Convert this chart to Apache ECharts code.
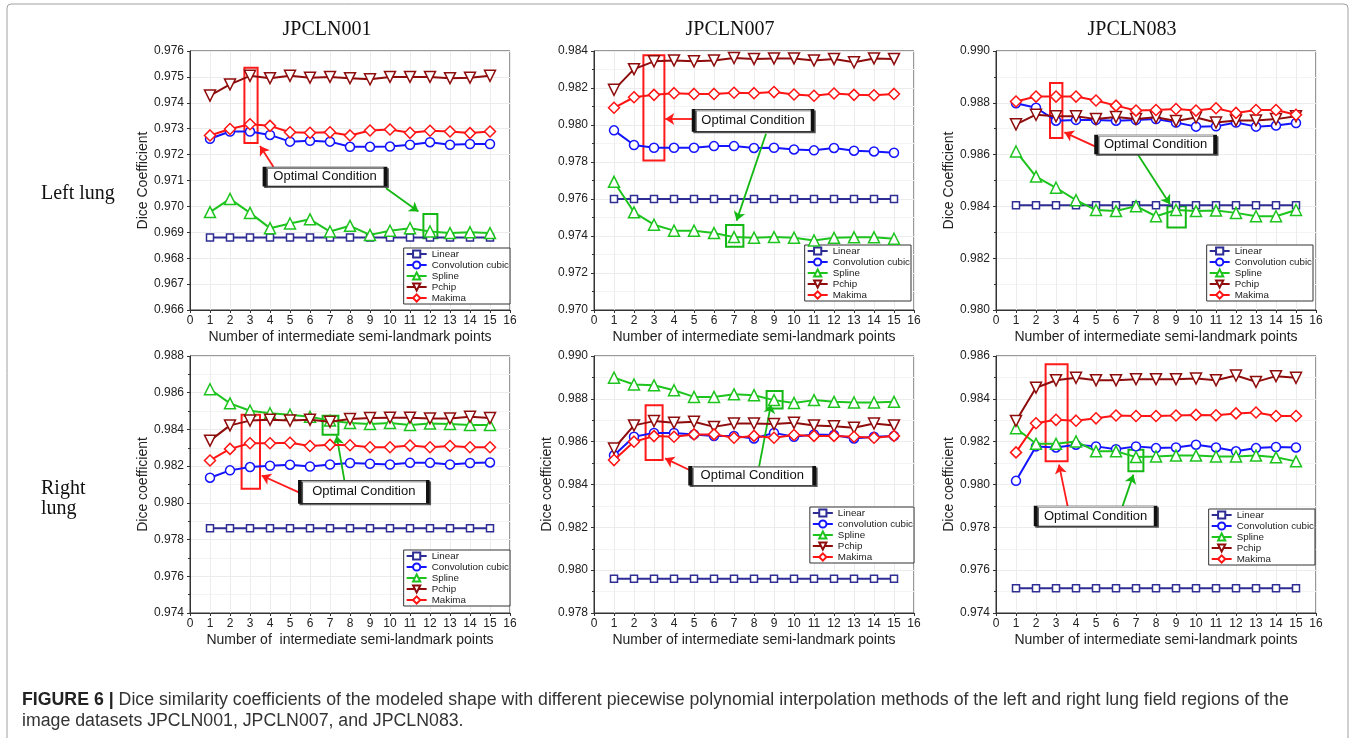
<!DOCTYPE html>
<html>
<head>
<meta charset="utf-8">
<title>Dice coefficients</title>
<script src="https://cdn.jsdelivr.net/npm/echarts@6/dist/echarts.min.js"></script>
<style>
  html, body { margin: 0; padding: 0; background: #fff; }
  #main { width: 1356px; height: 738px; }
</style>
</head>
<body>
<div id="main"></div>
<script>
// x values: number of intermediate semi-landmark points
var xPoints = [1, 2, 3, 4, 5, 6, 7, 8, 9, 10, 11, 12, 13, 14, 15];

// Left lung, JPCLN001
var left001Linear = [0.9688, 0.9688, 0.9688, 0.9688, 0.9688, 0.9688, 0.9688, 0.9688, 0.9688, 0.9688, 0.9688, 0.9688, 0.9688, 0.9688, 0.9688];
var left001Conv   = [0.97261, 0.97289, 0.97289, 0.97276, 0.97250, 0.97253, 0.97250, 0.97230, 0.97230, 0.97231, 0.97238, 0.97248, 0.97238, 0.97241, 0.97241];
var left001Spline = [0.96978, 0.97029, 0.96975, 0.96916, 0.96934, 0.96950, 0.96903, 0.96925, 0.96890, 0.96906, 0.96916, 0.96903, 0.96897, 0.96900, 0.96897];
var left001Pchip  = [0.97428, 0.97471, 0.97504, 0.97495, 0.97504, 0.97497, 0.97500, 0.97495, 0.97491, 0.97500, 0.97500, 0.97500, 0.97495, 0.97497, 0.97504];
var left001Makima = [0.97274, 0.97299, 0.97317, 0.97311, 0.97286, 0.97284, 0.97286, 0.97274, 0.97293, 0.97297, 0.97284, 0.97292, 0.97289, 0.97283, 0.97289];

// Left lung, JPCLN007
var left007Linear = [0.9760, 0.9760, 0.9760, 0.9760, 0.9760, 0.9760, 0.9760, 0.9760, 0.9760, 0.9760, 0.9760, 0.9760, 0.9760, 0.9760, 0.9760];
var left007Conv   = [0.97971, 0.97892, 0.97877, 0.97877, 0.97877, 0.97886, 0.97886, 0.97876, 0.97877, 0.97868, 0.97863, 0.97876, 0.97861, 0.97857, 0.97850];
var left007Spline = [0.97693, 0.97528, 0.97461, 0.97429, 0.97429, 0.97416, 0.97394, 0.97391, 0.97394, 0.97391, 0.97376, 0.97390, 0.97393, 0.97393, 0.97385];
var left007Pchip  = [0.98190, 0.98302, 0.98344, 0.98349, 0.98344, 0.98349, 0.98362, 0.98357, 0.98360, 0.98360, 0.98349, 0.98357, 0.98339, 0.98360, 0.98357];
var left007Makima = [0.98093, 0.98150, 0.98163, 0.98172, 0.98168, 0.98168, 0.98174, 0.98172, 0.98178, 0.98165, 0.98158, 0.98170, 0.98163, 0.98161, 0.98168];

// Left lung, JPCLN083
var left083Linear = [0.98404, 0.98404, 0.98404, 0.98404, 0.98404, 0.98404, 0.98404, 0.98404, 0.98404, 0.98404, 0.98404, 0.98404, 0.98404, 0.98404, 0.98404];
var left083Conv   = [0.98798, 0.98781, 0.98731, 0.98734, 0.98734, 0.98731, 0.98734, 0.98737, 0.98724, 0.98708, 0.98709, 0.98724, 0.98708, 0.98712, 0.98722];
var left083Spline = [0.98612, 0.98515, 0.98472, 0.98424, 0.98386, 0.98382, 0.98401, 0.98362, 0.98386, 0.98382, 0.98384, 0.98375, 0.98362, 0.98362, 0.98386];
var left083Pchip  = [0.98717, 0.98754, 0.98748, 0.98748, 0.98737, 0.98745, 0.98737, 0.98744, 0.98730, 0.98743, 0.98724, 0.98732, 0.98732, 0.98737, 0.98748];
var left083Makima = [0.98805, 0.98824, 0.98824, 0.98824, 0.98809, 0.98789, 0.98770, 0.98772, 0.98776, 0.98770, 0.98779, 0.98761, 0.98772, 0.98772, 0.98754];

// Right lung, JPCLN001
var right001Linear = [0.97861, 0.97861, 0.97861, 0.97861, 0.97861, 0.97861, 0.97861, 0.97861, 0.97861, 0.97861, 0.97861, 0.97861, 0.97861, 0.97861, 0.97861];
var right001Conv   = [0.98137, 0.98177, 0.98195, 0.98202, 0.98208, 0.98198, 0.98209, 0.98217, 0.98213, 0.98209, 0.98218, 0.98218, 0.98209, 0.98217, 0.98220];
var right001Spline = [0.98619, 0.98542, 0.98502, 0.98488, 0.98480, 0.98469, 0.98448, 0.98435, 0.98430, 0.98435, 0.98424, 0.98432, 0.98430, 0.98424, 0.98424];
var right001Pchip  = [0.98339, 0.98422, 0.98448, 0.98453, 0.98448, 0.98453, 0.98442, 0.98457, 0.98462, 0.98464, 0.98464, 0.98460, 0.98460, 0.98469, 0.98462];
var right001Makima = [0.98231, 0.98294, 0.98325, 0.98325, 0.98327, 0.98310, 0.98316, 0.98314, 0.98303, 0.98303, 0.98312, 0.98303, 0.98310, 0.98303, 0.98303];

// Right lung, JPCLN007
var right007Linear = [0.97960, 0.97960, 0.97960, 0.97960, 0.97960, 0.97960, 0.97960, 0.97960, 0.97960, 0.97960, 0.97960, 0.97960, 0.97960, 0.97960, 0.97960];
var right007Conv   = [0.98537, 0.98623, 0.98641, 0.98641, 0.98634, 0.98626, 0.98627, 0.98615, 0.98641, 0.98623, 0.98634, 0.98631, 0.98615, 0.98623, 0.98627];
var right007Spline = [0.98899, 0.98867, 0.98863, 0.98840, 0.98809, 0.98809, 0.98821, 0.98817, 0.98794, 0.98781, 0.98794, 0.98786, 0.98783, 0.98783, 0.98786];
var right007Pchip  = [0.98568, 0.98676, 0.98696, 0.98688, 0.98693, 0.98669, 0.98685, 0.98685, 0.98682, 0.98688, 0.98676, 0.98672, 0.98665, 0.98685, 0.98676];
var right007Makima = [0.98514, 0.98600, 0.98626, 0.98623, 0.98634, 0.98634, 0.98618, 0.98627, 0.98618, 0.98631, 0.98627, 0.98627, 0.98623, 0.98618, 0.98627];

// Right lung, JPCLN083
var right083Linear = [0.97516, 0.97516, 0.97516, 0.97516, 0.97516, 0.97516, 0.97516, 0.97516, 0.97516, 0.97516, 0.97516, 0.97516, 0.97516, 0.97516, 0.97516];
var right083Conv   = [0.98017, 0.98178, 0.98173, 0.98186, 0.98178, 0.98165, 0.98178, 0.98170, 0.98173, 0.98186, 0.98173, 0.98155, 0.98170, 0.98175, 0.98173];
var right083Spline = [0.98263, 0.98190, 0.98190, 0.98201, 0.98155, 0.98155, 0.98128, 0.98131, 0.98135, 0.98135, 0.98131, 0.98131, 0.98135, 0.98127, 0.98108];
var right083Pchip  = [0.98297, 0.98452, 0.98487, 0.98498, 0.98487, 0.98487, 0.98492, 0.98492, 0.98492, 0.98495, 0.98487, 0.98509, 0.98479, 0.98506, 0.98498];
var right083Makima = [0.98150, 0.98286, 0.98302, 0.98298, 0.98309, 0.98322, 0.98320, 0.98320, 0.98322, 0.98325, 0.98323, 0.98332, 0.98336, 0.98320, 0.98320];

var SANS = '"Liberation Sans", Arial, sans-serif';
var SERIF = '"Liberation Serif", "Times New Roman", serif';
var RED = '#ff1a1a', GREEN = '#14b814';
var XNAME = 'Number of intermediate semi-landmark points';

var methods = [
    { key: 'linear', color: '#2d2d94', symbol: 'rect', size: 7, rotate: 0 },
    { key: 'conv',   color: '#1414ff', symbol: 'circle', size: 9, rotate: 0 },
    { key: 'spline', color: '#1ec41e', symbol: 'triangle', size: 11, rotate: 0 },
    { key: 'pchip',  color: '#8e0c0c', symbol: 'triangle', size: 11, rotate: 180 },
    { key: 'makima', color: '#ff1414', symbol: 'diamond', size: 11, rotate: 0 }
];

var panels = [
    { grid: { left: 190, top: 51, width: 320, height: 259 }, min: 0.966, max: 0.976, interval: 0.001, minor: false,
      yName: 'Dice Coefficient', xName: XNAME, legend: { right: 846, top: 248 },
      names: ['Linear', 'Convolution cubic', 'Spline', 'Pchip', 'Makima'],
      values: [left001Linear, left001Conv, left001Spline, left001Pchip, left001Makima],
      redRect: [[2.72, 0.97535], [3.38, 0.97245]], redArrow: [[4.17, 0.97153], [3.5, 0.97233]],
      box: [6.75, 0.97115], boxSize: [121, 19],
      greenArrow: [[9.8, 0.9707], [11.42, 0.9698]], greenRect: [[11.67, 0.96971], [12.37, 0.96877]] },
    { grid: { left: 594, top: 51, width: 320, height: 259 }, min: 0.970, max: 0.984, interval: 0.002, minor: true,
      yName: '', xName: XNAME, legend: { right: 445, top: 245 },
      names: ['Linear', 'Convolution cubic', 'Spline', 'Pchip', 'Makima'],
      values: [left007Linear, left007Conv, left007Spline, left007Pchip, left007Makima],
      redRect: [[2.47, 0.98377], [3.52, 0.97808]], redArrow: [[4.97, 0.98033], [3.56, 0.98033]],
      box: [7.95, 0.98025], boxSize: [119, 22],
      greenArrow: [[8.6, 0.97953], [7.13, 0.97483]], greenRect: [[6.6, 0.9746], [7.47, 0.97342]] },
    { grid: { left: 996, top: 51, width: 320, height: 259 }, min: 0.980, max: 0.990, interval: 0.002, minor: true,
      yName: 'Dice Coefficient', xName: XNAME, legend: { right: 43, top: 245 },
      names: ['Linear', 'Convolution cubic', 'Spline', 'Pchip', 'Makima'],
      values: [left083Linear, left083Conv, left083Spline, left083Pchip, left083Makima],
      redRect: [[2.7, 0.98876], [3.32, 0.98664]], redArrow: [[4.98, 0.98631], [3.42, 0.98686]],
      box: [7.98, 0.98639], boxSize: [119, 19],
      greenArrow: [[7.03, 0.98608], [8.7, 0.98408]], greenRect: [[8.57, 0.98401], [9.49, 0.98319]] },
    { grid: { left: 190, top: 356, width: 320, height: 257 }, min: 0.974, max: 0.988, interval: 0.002, minor: true,
      yName: 'Dice coefficient', xName: 'Number of  intermediate semi-landmark points', legend: { right: 846, top: 550 },
      names: ['Linear', 'Convolution cubic', 'Spline', 'Pchip', 'Makima'],
      values: [right001Linear, right001Conv, right001Spline, right001Pchip, right001Makima],
      redRect: [[2.58, 0.9848], [3.5, 0.98077]], redArrow: [[5.58, 0.9805], [3.58, 0.98149]],
      box: [8.69, 0.9806], boxSize: [128, 23],
      greenArrow: [[7.72, 0.98122], [7.33, 0.98366]], greenRect: [[6.63, 0.98474], [7.42, 0.98371]] },
    { grid: { left: 594, top: 356, width: 320, height: 257 }, min: 0.978, max: 0.990, interval: 0.002, minor: true,
      yName: 'Dice coefficient', xName: XNAME, legend: { right: 442, top: 507 },
      names: ['Linear', 'convolution cubic', 'Spline', 'Pchip', 'Makima'],
      values: [right007Linear, right007Conv, right007Spline, right007Pchip, right007Makima],
      redRect: [[2.58, 0.9877], [3.43, 0.98514]], redArrow: [[4.85, 0.98464], [3.55, 0.98522]],
      box: [7.91, 0.98441], boxSize: [124, 19],
      greenArrow: [[8.25, 0.98481], [8.85, 0.98775]], greenRect: [[8.63, 0.98837], [9.43, 0.98755]] },
    { grid: { left: 996, top: 356, width: 320, height: 257 }, min: 0.974, max: 0.986, interval: 0.002, minor: true,
      yName: 'Dice coefficient', xName: XNAME, legend: { right: 41, top: 509 },
      names: ['Linear', 'Convolution cubic', 'Spline', 'Pchip', 'Makima'],
      values: [right083Linear, right083Conv, right083Spline, right083Pchip, right083Makima],
      redRect: [[2.48, 0.98561], [3.58, 0.98108]], redArrow: [[3.58, 0.97899], [3.15, 0.98093]],
      box: [4.98, 0.97853], boxSize: [120, 20],
      greenArrow: [[6.33, 0.97899], [6.87, 0.98046]], greenRect: [[6.62, 0.98162], [7.37, 0.98062]] }
];

var grids = [], xAxes = [], yAxes = [], legends = [], series = [];

panels.forEach(function (p, pi) {
    grids.push({ show: true, left: p.grid.left, top: p.grid.top, width: p.grid.width, height: p.grid.height,
        borderColor: '#333', borderWidth: 1, backgroundColor: 'transparent' });

    xAxes.push({
        type: 'value', gridIndex: pi, min: 0, max: 16, interval: 1,
        name: p.xName, nameLocation: 'middle', nameGap: 20,
        nameTextStyle: { fontSize: 14, color: '#222', fontFamily: SANS },
        axisLine: { show: true, lineStyle: { color: '#333', width: 1 } },
        axisTick: { show: true, length: 3, lineStyle: { color: '#333' } },
        axisLabel: { fontSize: 12, color: '#222', margin: 5, fontFamily: SANS },
        splitLine: { show: true, lineStyle: { color: '#ececec', width: 1 } }
    });

    yAxes.push({
        type: 'value', gridIndex: pi, min: p.min, max: p.max, interval: p.interval,
        name: p.yName, nameLocation: 'middle', nameGap: 39,
        nameTextStyle: { fontSize: 14, color: '#222', fontFamily: SANS },
        axisLine: { show: true, lineStyle: { color: '#333', width: 1 } },
        axisTick: { show: true, length: 3, lineStyle: { color: '#333' } },
        minorTick: { show: p.minor, splitNumber: 2, length: 2, lineStyle: { color: '#333' } },
        axisLabel: { fontSize: 12, color: '#222', margin: 6, fontFamily: SANS,
            formatter: function (v) { return v.toFixed(3); } },
        splitLine: { show: true, lineStyle: { color: '#ececec', width: 1 } },
        minorSplitLine: { show: p.minor, lineStyle: { color: '#f4f4f4', width: 1 } }
    });

    legends.push({
        orient: 'vertical', right: p.legend.right, top: p.legend.top,
        data: p.names, itemWidth: 20, itemHeight: 9, itemGap: 1,
        padding: [1, 1, 1, 2], backgroundColor: '#fff',
        borderColor: '#333', borderWidth: 1, borderRadius: 0,
        selectedMode: false,
        textStyle: { fontSize: 9.8, color: '#222', fontFamily: SANS }
    });

    methods.forEach(function (m, mi) {
        var s = {
            type: 'line', name: p.names[mi], xAxisIndex: pi, yAxisIndex: pi,
            data: xPoints.map(function (x, i) { return [x, p.values[mi][i]]; }),
            symbol: m.symbol, symbolSize: m.size, symbolRotate: m.rotate, showSymbol: true,
            lineStyle: { color: m.color, width: 2 },
            itemStyle: { color: '#fff', borderColor: m.color, borderWidth: 1.5 },
            emphasis: { disabled: true },
            z: 3 + mi
        };
        if (m.key === 'linear') {
            // annotations: optimal condition boxes, arrows and label
            s.markArea = {
                silent: true,
                data: [
                    [{ coord: p.redRect[0], itemStyle: { color: 'rgba(0,0,0,0)', borderColor: RED, borderWidth: 2 } }, { coord: p.redRect[1] }],
                    [{ coord: p.greenRect[0], itemStyle: { color: 'rgba(0,0,0,0)', borderColor: GREEN, borderWidth: 2 } }, { coord: p.greenRect[1] }]
                ]
            };
            s.markLine = {
                silent: true, symbol: ['none', 'arrow'], symbolSize: 9,
                label: { show: false },
                data: [
                    [{ coord: p.redArrow[0], lineStyle: { color: RED, width: 1.8, type: 'solid' } }, { coord: p.redArrow[1] }],
                    [{ coord: p.greenArrow[0], lineStyle: { color: GREEN, width: 1.8, type: 'solid' } }, { coord: p.greenArrow[1] }]
                ]
            };
            s.markPoint = {
                silent: true, symbol: 'rect',
                data: [{
                    coord: p.box, symbolSize: p.boxSize,
                    itemStyle: { color: '#fff', borderColor: '#111', borderWidth: 1.5,
                        shadowColor: '#555', shadowOffsetX: 1.5, shadowOffsetY: 1.5, shadowBlur: 0 },
                    label: { show: true, position: 'inside', formatter: 'Optimal Condition',
                        color: '#111', fontSize: 13, fontFamily: SANS }
                }]
            };
        }
        series.push(s);
    });
});

var graphics = [
    { type: 'rect', shape: { x: 7, y: 4, width: 1341, height: 760, r: 4 }, silent: true,
      style: { fill: 'none', stroke: '#a0a0a0', lineWidth: 1 } },
    { type: 'text', x: 327, y: 30, silent: true,
      style: { text: 'JPCLN001', font: '20px ' + SERIF, fill: '#111', textAlign: 'center', textVerticalAlign: 'middle' } },
    { type: 'text', x: 730, y: 30, silent: true,
      style: { text: 'JPCLN007', font: '20px ' + SERIF, fill: '#111', textAlign: 'center', textVerticalAlign: 'middle' } },
    { type: 'text', x: 1132, y: 30, silent: true,
      style: { text: 'JPCLN083', font: '20px ' + SERIF, fill: '#111', textAlign: 'center', textVerticalAlign: 'middle' } },
    { type: 'text', x: 41, y: 194, silent: true,
      style: { text: 'Left lung', font: '20px ' + SERIF, fill: '#111', textVerticalAlign: 'middle' } },
    { type: 'text', x: 41, y: 489, silent: true,
      style: { text: 'Right', font: '20px ' + SERIF, fill: '#111', textVerticalAlign: 'middle' } },
    { type: 'text', x: 41, y: 509, silent: true,
      style: { text: 'lung', font: '20px ' + SERIF, fill: '#111', textVerticalAlign: 'middle' } },
    { type: 'text', x: 22, y: 700, scaleX: 0.985, silent: true,
      style: { text: '{b|FIGURE 6 |} Dice similarity coefficients of the modeled shape with different piecewise polynomial interpolation methods of the left and right lung field regions of the',
        font: '18px ' + SANS, fill: '#333', textVerticalAlign: 'middle',
        rich: { b: { fontWeight: 'bold', fontSize: 18, fontFamily: SANS, fill: '#222' } } } },
    { type: 'text', x: 22, y: 721, scaleX: 0.985, silent: true,
      style: { text: 'image datasets JPCLN001, JPCLN007, and JPCLN083.', font: '18px ' + SANS, fill: '#333', textVerticalAlign: 'middle' } }
];

var myChart = echarts.init(document.getElementById('main'));
var option = {
    animation: false,
    backgroundColor: '#fff',
    grid: grids,
    xAxis: xAxes,
    yAxis: yAxes,
    legend: legends,
    series: series,
    graphic: graphics
};
myChart.setOption(option);
</script>
</body>
</html>
